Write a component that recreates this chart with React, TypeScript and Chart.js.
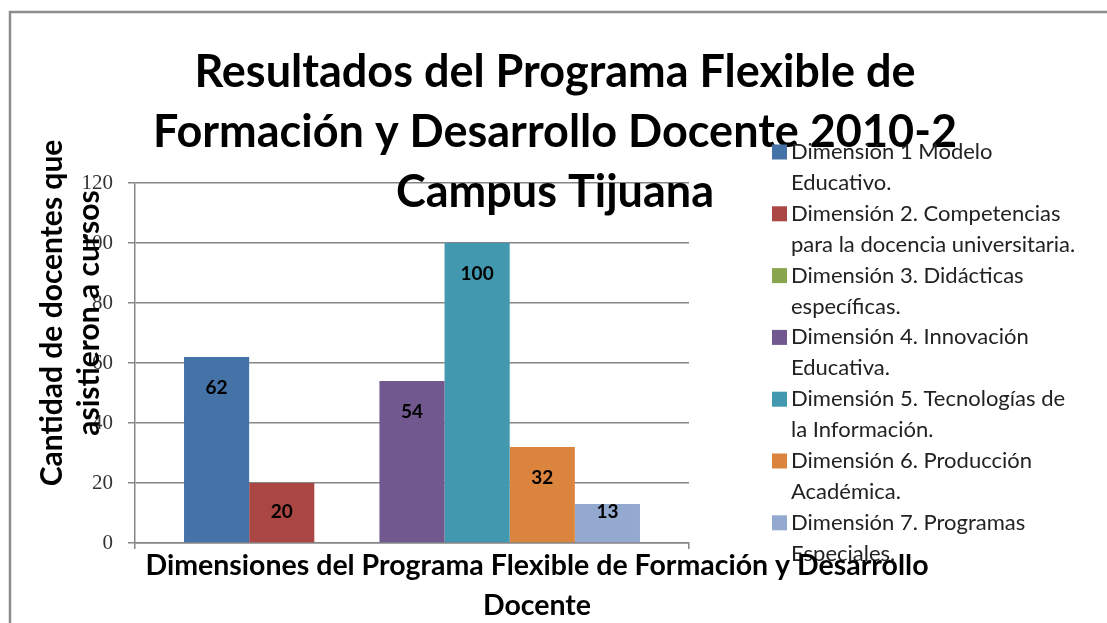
import { useEffect, useRef } from "react";
import { Chart, registerables } from "chart.js";

Chart.register(...registerables);

const categories = [""];
const seriesLabels = [
  "Dimensión 1 Modelo\nEducativo.",
  "Dimensión 2. Competencias\npara la docencia universitaria.",
  "Dimensión 3. Didácticas\nespecíficas.",
  "Dimensión 4. Innovación\nEducativa.",
  "Dimensión 5. Tecnologías de\nla Información.",
  "Dimensión 6. Producción\nAcadémica.",
  "Dimensión 7. Programas\nEspeciales.",
];
const seriesValues = [62, 20, 0, 54, 100, 32, 13];
const seriesColors = ["#4572A7", "#AA4643", "#89A54E", "#71588F", "#4198AF", "#DB843D", "#93A9CF"];
const yMin = 0;
const yMax = 120;
const yStep = 20;
const titleLines = [
  "Resultados del Programa Flexible de",
  "Formación y Desarrollo Docente 2010-2",
  "Campus Tijuana",
];
const yTitleLines = ["Cantidad de docentes que", "asistieron a cursos"];
const xTitleLines = ["Dimensiones del Programa Flexible de Formación y Desarrollo", "Docente"];

const overlay = {
  id: "overlay",
  afterDraw(chart: any) {
    const ctx = chart.ctx as CanvasRenderingContext2D;
    ctx.save();

    // outer frame
    ctx.strokeStyle = "#8c8c8c";
    ctx.lineWidth = 2.5;
    ctx.beginPath();
    ctx.moveTo(10, 640);
    ctx.lineTo(10, 12);
    ctx.lineTo(1120, 12);
    ctx.stroke();

    // data labels
    ctx.fillStyle = "#000";
    ctx.font = "bold 19px Lato";
    ctx.textAlign = "center";
    ctx.textBaseline = "middle";
    chart.data.datasets.forEach((ds: any, i: number) => {
      const meta = chart.getDatasetMeta(i);
      meta.data.forEach((el: any, j: number) => {
        const v = ds.data[j];
        if (!v) return;
        const h = el.base - el.y;
        ctx.fillText(String(v), el.x, el.y + Math.min(31, h - 30));
      });
    });

    // title
    ctx.font = "bold 45px Lato";
    ctx.textBaseline = "alphabetic";
    ctx.fillStyle = "#000";
    titleLines.forEach((t, i) => ctx.fillText(t, 555, 87 + i * 60));

    // legend
    ctx.font = "22px Lato";
    ctx.textAlign = "left";
    ctx.textBaseline = "middle";
    let line = 0;
    chart.data.datasets.forEach((ds: any) => {
      const parts = String(ds.label).split("\n");
      const cy = 152 + line * 30.9;
      ctx.fillStyle = ds.backgroundColor;
      ctx.fillRect(772, cy - 7.5, 15, 15);
      ctx.fillStyle = "#222";
      parts.forEach((p, k) => ctx.fillText(p, 791, 152 + (line + k) * 30.9));
      line += parts.length;
    });

    // y title
    ctx.fillStyle = "#000";
    ctx.font = "bold 30px Lato";
    ctx.textAlign = "center";
    ctx.textBaseline = "alphabetic";
    yTitleLines.forEach((t, i) => {
      ctx.save();
      ctx.translate(62 + i * 37, 313);
      ctx.rotate(-Math.PI / 2);
      ctx.fillText(t, 0, 0);
      ctx.restore();
    });

    // x title
    ctx.font = "bold 28.5px Lato";
    xTitleLines.forEach((t, i) => ctx.fillText(t, 537, 575 + i * 40));

    ctx.restore();
  },
};

export default function App() {
  const ref = useRef<HTMLCanvasElement>(null);
  useEffect(() => {
    if (!ref.current) return;
    const chart = new Chart(ref.current, {
      type: "bar",
      data: {
        labels: categories,
        datasets: seriesLabels.map((label, i) => ({
          label,
          data: [seriesValues[i]],
          backgroundColor: seriesColors[i],
          borderWidth: 0,
          barPercentage: 1,
          categoryPercentage: 0.823,
        })),
      },
      options: {
        responsive: false,
        animation: false,
        layout: { padding: { left: 15, top: 183, right: 418, bottom: 80 } },
        plugins: {
          legend: { display: false },
          title: { display: false },
          tooltip: { enabled: false },
        },
        scales: {
          x: {
            grid: {
              display: true,
              drawOnChartArea: false,
              drawTicks: true,
              tickLength: 6,
              offset: true,
              color: "#868686",
              lineWidth: 1.5,
            },
            border: { display: true, color: "#868686", width: 1.5 },
            ticks: { display: false },
            afterFit: (s: any) => {
              s.height = 0;
            },
          },
          y: {
            min: yMin,
            max: yMax,
            ticks: {
              stepSize: yStep,
              font: { family: "'Liberation Serif'", size: 21 },
              color: "#333",
              padding: 15,
            },
            grid: { color: "#868686", lineWidth: 1.5, tickLength: 7 },
            border: { display: true, color: "#868686", width: 1.5 },
            afterFit: (s: any) => {
              s.width = 120;
            },
          },
        },
      },
      plugins: [overlay],
    } as any);
    return () => chart.destroy();
  }, []);
  return (
    <div style={{ position: "fixed", left: 0, top: 0, width: 1107, height: 623, background: "#fff" }}>
      <canvas ref={ref} width={1107} height={623} style={{ display: "block" }} />
    </div>
  );
}
